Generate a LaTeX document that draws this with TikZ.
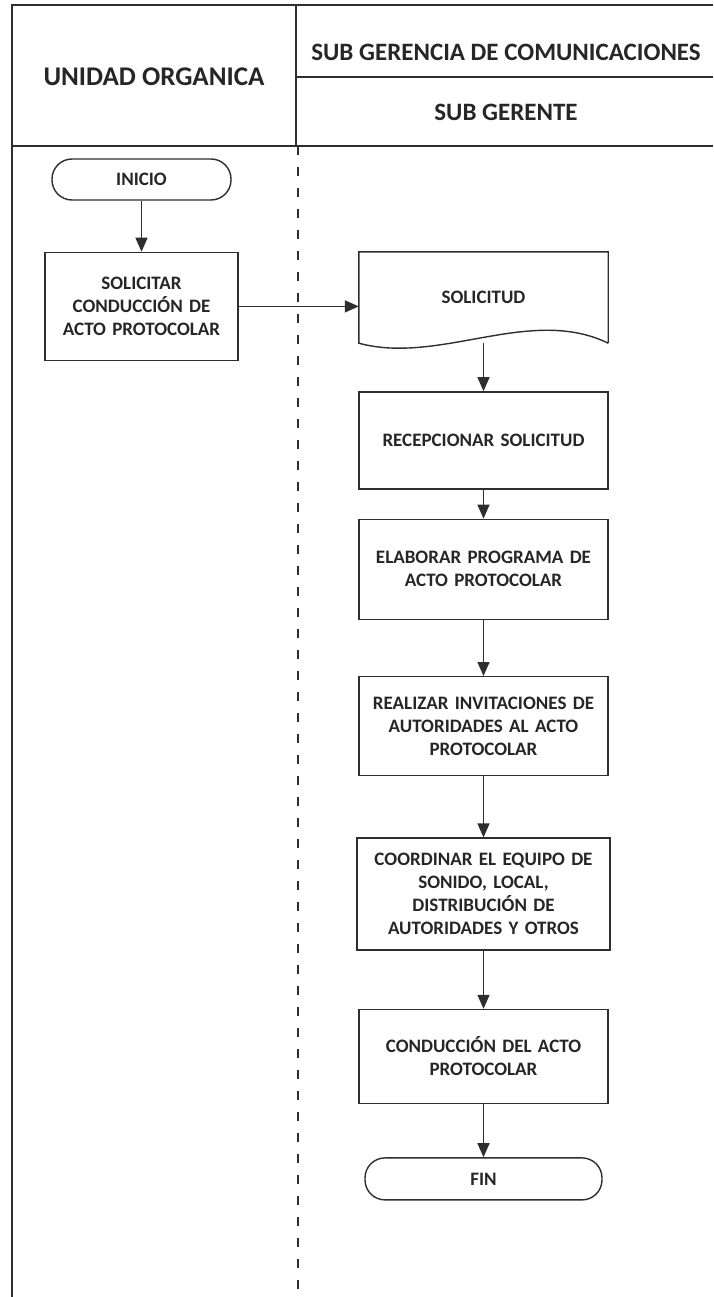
\documentclass[tikz,border=0pt]{standalone}
\usepackage{fontspec}
\setmainfont{Carlito}
\usepackage{tikz}
\usetikzlibrary{arrows.meta,positioning,calc}
\definecolor{linea}{gray}{0.18}
\newcommand{\cajafont}{\fontsize{19}{23}\selectfont\bfseries}
\newcommand{\cabfont}{\fontsize{25}{30}\selectfont\bfseries}
\tikzset{
  proceso/.style={rectangle,draw=linea,line width=1.4pt,minimum width=249pt,text width=237pt,align=center,inner sep=0pt,font=\cajafont,text=black!85},
  terminal/.style={rectangle,rounded corners=20pt,draw=linea,line width=1.4pt,minimum height=41pt,inner sep=0pt,font=\cajafont,text=black!85},
  cabecera/.style={inner sep=0pt,font=\cabfont,text=black!85},
  flecha/.style={-{Triangle[length=14pt,width=12pt]},line width=1.4pt,draw=linea},
  carril/.style={line width=1.4pt,draw=linea}
}
\begin{document}
\begin{tikzpicture}[x=1pt,y=-1pt]
  \useasboundingbox (0,0) rectangle (713,1297);
  \draw[carril] (12,5) rectangle (296,146);
  \draw[carril] (296,5) -- (713,5);
  \draw[carril] (296,77) -- (713,77);
  \draw[carril] (296,146) -- (713,146);
  \draw[carril] (12,146) -- (12,1297);
  \draw[carril,dash pattern=on 9pt off 12pt] (298,146) -- (298,1297);
  \node[cabecera, font=\fontsize{27}{30}\selectfont\bfseries] (unidad) at (154,77) {UNIDAD ORGANICA};
  \node[cabecera] (subgerencia) at (506,52) {SUB GERENCIA DE COMUNICACIONES};
  \node[cabecera] (subgerente) at (506,112) {SUB GERENTE};

  \node[terminal, minimum width=179pt] (inicio) at (141.5,179.5) {INICIO};
  \node[proceso, minimum width=193pt, text width=185pt, minimum height=108pt, below=51pt of inicio] (solicitar)
      {SOLICITAR\\CONDUCCIÓN DE\\ACTO PROTOCOLAR};
  \node[inner sep=0pt, minimum width=249pt, minimum height=91pt, font=\cajafont, text=black!85] (doc) at (483.5,297.5) {SOLICITUD};
  \draw[carril] (doc.south east) -- (doc.north east) -- (doc.north west) -- (doc.south west)
      .. controls ($(doc.south west)+(81,22)$) and ($(doc.south east)+(-78,-38)$) .. (doc.south east);
  \node[proceso, minimum height=97pt, below=48pt of doc] (recep) {RECEPCIONAR SOLICITUD};
  \node[proceso, minimum height=100pt, below=29pt of recep] (elab) {ELABORAR PROGRAMA DE\\ACTO PROTOCOLAR};
  \node[proceso, minimum height=99pt, below=56pt of elab] (invit) {REALIZAR INVITACIONES DE\\AUTORIDADES AL ACTO\\PROTOCOLAR};
  \node[proceso, minimum width=253pt, minimum height=112pt, below=61pt of invit] (coord)
      {COORDINAR EL EQUIPO DE\\SONIDO, LOCAL,\\DISTRIBUCIÓN DE\\AUTORIDADES Y OTROS};
  \node[proceso, minimum height=94pt, below=58pt of coord] (conduc) {CONDUCCIÓN DEL ACTO\\PROTOCOLAR};
  \node[terminal, minimum width=237pt, minimum height=42pt, below=53pt of conduc] (fin) {FIN};

  \draw[flecha] (inicio) -- (solicitar);
  \draw[flecha] (solicitar.east) -- (solicitar.east -| doc.west);
  \draw[flecha] (doc.south) -- (recep);
  \draw[flecha] (recep) -- (elab);
  \draw[flecha] (elab) -- (invit);
  \draw[flecha] (invit) -- (coord);
  \draw[flecha] (coord) -- (conduc);
  \draw[flecha] (conduc) -- (fin);
\end{tikzpicture}
\end{document}
